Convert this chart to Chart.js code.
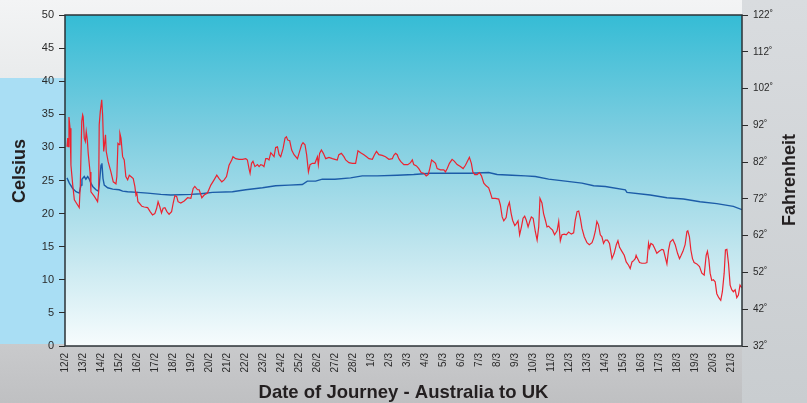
<!DOCTYPE html>
<html>
<head>
<meta charset="utf-8">
<script src="https://cdn.jsdelivr.net/npm/chart.js@4/dist/chart.umd.min.js"></script>
<style>
  html,body{margin:0;padding:0;}
  body{width:807px;height:403px;position:relative;overflow:hidden;background:#cdd1d4;}
  .bg{position:absolute;}
  #c{position:absolute;left:0;top:0;}
</style>
</head>
<body>
<div class="bg" style="left:0;top:0;width:807px;height:78px;background:linear-gradient(180deg,#f3f4f5,#e9ebec);"></div>
<div class="bg" style="left:742px;top:0;width:65px;height:403px;background:linear-gradient(180deg,#d9dcdf,#c9cdd0);"></div>
<div class="bg" style="left:0;top:78px;width:70px;height:266px;background:#a9def4;"></div>
<div class="bg" style="left:0;top:344px;width:742px;height:59px;background:linear-gradient(180deg,#c9cacc,#bfc0c2);"></div>
<canvas id="c" width="807" height="403"></canvas>
<script>
// X tick labels (one per day, index 0 = 12/2)
const dayLabels = ['12/2','13/2','14/2','15/2','16/2','17/2','18/2','19/2','20/2','21/2','22/2','23/2','24/2','25/2','26/2','27/2','28/2',
  '1/3','2/3','3/3','4/3','5/3','6/3','7/3','8/3','9/3','10/3','11/3','12/3','13/3','14/3','15/3','16/3','17/3','18/3','19/3','20/3','21/3'];

// Red series: air temperature (°C), day offsets from 12/2
const airDays = [0.11,0.15,0.18,0.22,0.28,0.33,0.43,0.52,0.70,0.79,0.85,0.93,0.98,1.01,1.07,1.13,1.18,1.24,1.29,1.39,1.44,1.63,1.81,1.87,1.90,1.96,2.04,2.09,2.15,2.20,2.25,2.29,2.40,2.55,2.68,2.83,2.88,2.94,3.01,3.05,3.11,3.20,3.29,3.38,3.48,3.57,3.66,3.79,3.88,3.94,3.99,4.05,4.12,4.27,4.40,4.59,4.73,4.86,4.99,5.09,5.17,5.27,5.36,5.45,5.55,5.66,5.78,5.92,6.01,6.10,6.20,6.28,6.43,6.62,6.81,6.99,7.12,7.21,7.36,7.45,7.60,7.73,7.91,8.10,8.28,8.43,8.56,8.71,8.84,8.97,9.11,9.26,9.33,9.48,9.67,9.86,10.04,10.13,10.22,10.28,10.36,10.44,10.55,10.69,10.78,10.87,10.97,11.05,11.15,11.24,11.33,11.43,11.52,11.61,11.70,11.80,11.89,11.98,12.11,12.22,12.30,12.37,12.48,12.59,12.72,12.91,13.03,13.14,13.22,13.33,13.42,13.52,13.61,13.74,13.88,14.02,14.07,14.14,14.24,14.35,14.48,14.66,14.85,14.99,15.12,15.21,15.35,15.49,15.59,15.77,15.96,16.14,16.27,16.42,16.60,16.75,16.88,17.07,17.19,17.30,17.43,17.62,17.80,17.99,18.18,18.26,18.36,18.45,18.54,18.64,18.82,19.04,19.19,19.29,19.37,19.52,19.65,19.78,19.93,20.06,20.17,20.26,20.36,20.45,20.58,20.67,20.85,21.04,21.13,21.23,21.35,21.50,21.63,21.78,21.96,22.11,22.24,22.33,22.46,22.57,22.65,22.76,22.89,23.02,23.13,23.26,23.39,23.53,23.63,23.72,23.90,24.09,24.18,24.28,24.37,24.50,24.59,24.68,24.78,24.86,24.98,25.07,25.16,25.25,25.35,25.44,25.53,25.62,25.72,25.81,25.90,26.00,26.12,26.22,26.31,26.38,26.49,26.58,26.68,26.77,26.86,26.96,27.08,27.19,27.33,27.42,27.51,27.60,27.73,27.84,27.97,28.12,28.25,28.34,28.44,28.53,28.62,28.71,28.84,28.99,29.12,29.27,29.36,29.45,29.54,29.63,29.73,29.82,29.91,30.01,30.13,30.24,30.38,30.50,30.62,30.71,30.80,30.93,31.06,31.17,31.30,31.39,31.49,31.58,31.67,31.72,31.80,31.91,32.04,32.22,32.32,32.41,32.46,32.54,32.65,32.74,32.87,33.00,33.15,33.24,33.33,33.43,33.52,33.61,33.76,33.89,34.02,34.13,34.22,34.32,34.44,34.54,34.59,34.68,34.76,34.85,34.94,35.09,35.24,35.37,35.50,35.61,35.68,35.76,35.83,35.92,36.01,36.11,36.20,36.31,36.42,36.51,36.61,36.68,36.76,36.85,36.94,37.03,37.12,37.22,37.31,37.40,37.49,37.59];
const airTemps = [30.1,31.4,30.1,34.6,32.9,27.3,24.3,22.1,21.3,20.9,24.3,33.9,34.9,34.6,31.4,30.9,32.4,31.1,29.1,26.3,23.3,22.6,21.8,23.3,33.4,35.4,37.2,34.9,29.4,30.6,31.9,29.4,27.8,26.3,24.8,24.5,25.6,30.6,30.4,32.1,31.4,28.6,28.1,25.6,25.1,25.8,25.6,25.3,24.1,22.8,23.1,21.8,21.6,21.1,21.0,20.9,20.3,19.8,20.0,20.8,21.8,21.0,20.1,20.8,20.9,20.3,19.9,20.3,21.6,22.7,22.6,21.8,21.6,21.9,22.4,22.3,23.8,24.1,23.6,23.6,22.4,22.8,23.1,24.3,25.1,25.8,25.3,24.8,25.1,25.6,27.3,28.1,28.6,28.3,28.2,28.2,28.3,28.1,26.8,26.1,27.6,27.9,27.1,27.4,27.1,27.4,27.3,27.1,28.3,28.3,28.1,29.2,28.9,28.6,30.0,30.1,28.9,28.6,29.8,31.4,31.6,31.1,31.0,29.6,28.9,28.3,29.4,30.4,30.7,30.4,28.9,26.3,27.4,27.6,27.6,28.6,27.4,29.1,29.6,29.1,28.3,28.5,28.3,28.2,28.1,28.9,29.1,28.6,28.1,27.7,27.6,27.6,29.5,29.2,28.9,28.6,28.3,28.2,28.9,29.4,28.9,28.8,28.6,28.2,28.3,28.8,29.1,28.9,28.3,27.9,27.4,27.4,27.7,28.1,27.4,27.2,26.8,26.2,26.1,25.7,25.9,26.8,28.1,27.9,27.6,26.8,26.6,26.6,26.3,26.8,27.6,28.2,27.9,27.4,27.1,26.8,27.3,27.8,28.5,27.6,26.3,25.9,25.9,26.2,25.7,24.6,24.2,23.9,23.1,22.3,22.3,22.2,21.3,19.5,18.9,19.4,21.0,21.7,20.0,19.0,18.2,18.5,18.9,16.8,18.0,19.3,19.6,19.0,18.0,18.8,19.5,19.3,17.3,16.0,18.0,22.3,21.6,20.0,19.0,18.0,18.1,17.8,17.5,16.8,17.4,18.8,15.9,16.8,16.9,16.8,17.2,16.9,17.1,19.0,20.3,20.4,19.3,17.8,16.5,15.6,15.3,15.6,16.3,17.3,18.8,18.3,16.8,16.5,15.5,16.0,16.0,15.5,13.2,14.0,15.3,15.9,14.9,14.3,13.7,12.7,12.2,11.7,12.7,12.9,13.2,13.7,13.2,12.6,12.5,12.5,12.6,15.5,14.8,15.5,15.3,14.8,14.0,14.3,14.6,14.5,13.5,12.4,14.5,15.7,16.1,15.3,14.0,13.2,13.7,14.3,15.3,17.3,17.4,16.5,14.5,13.2,12.6,12.4,12.0,11.0,10.7,13.7,14.3,13.0,11.0,9.9,10.0,9.7,7.9,7.3,6.9,8.2,11.0,14.5,14.6,12.5,9.2,8.5,8.2,8.5,7.3,7.7,9.2,8.8];

// Blue series: sea temperature (°C)
const seaDays = [0.11,0.24,0.43,0.61,0.79,0.89,0.94,1.07,1.16,1.26,1.35,1.44,1.54,1.72,1.85,1.90,2.00,2.05,2.11,2.18,2.37,2.65,3.01,3.20,3.48,4.03,4.59,5.32,5.88,6.99,7.54,8.19,9.30,10.04,10.97,11.70,12.44,13.18,13.46,13.92,14.29,14.99,15.86,16.51,17.34,18.45,19.37,20.30,22.52,23.53,24.00,24.83,25.57,26.12,26.86,27.79,28.71,29.36,30.01,31.12,31.21,32.50,33.43,34.35,35.27,36.20,37.12,37.60];
const seaTemps = [25.4,24.6,23.8,23.3,23.1,24.3,25.2,25.6,25.2,25.6,25.2,24.6,24.1,23.6,23.4,24.3,27.3,27.6,25.3,24.3,23.9,23.7,23.6,23.4,23.3,23.2,23.1,22.9,22.8,22.9,23.0,23.2,23.3,23.6,23.9,24.2,24.3,24.4,24.9,24.9,25.2,25.2,25.4,25.7,25.7,25.8,25.9,26.1,26.1,26.2,25.9,25.8,25.7,25.6,25.2,24.9,24.6,24.2,24.1,23.6,23.2,22.8,22.4,22.2,21.8,21.5,21.1,20.6];

const celsiusTicks = {min: 0, max: 50, step: 5};
const fahrenheitTicks = {min: 32, max: 122, step: 10};

const TXT = '#2a2a2a';
const FONT = '"Liberation Sans", Arial, sans-serif';

const bgPlugin = {
  id: 'plotBg',
  beforeDraw(chart) {
    const {ctx, chartArea: a} = chart;
    const g = ctx.createLinearGradient(0, a.top, 0, a.bottom);
    g.addColorStop(0, '#35bcd5');
    g.addColorStop(0.35, '#7ccde0');
    g.addColorStop(0.7, '#bfe5ee');
    g.addColorStop(1, '#f7fcfd');
    ctx.save();
    ctx.fillStyle = g;
    ctx.fillRect(a.left, a.top, a.right - a.left, a.bottom - a.top);
    ctx.restore();
  },
  afterDraw(chart) {
    const {ctx, chartArea: a} = chart;
    ctx.save();
    ctx.strokeStyle = '#2b3236';
    ctx.lineWidth = 1.5;
    ctx.strokeRect(a.left, a.top, a.right - a.left, a.bottom - a.top);
    ctx.fillStyle = '#231f20';
    ctx.font = 'bold 18px ' + FONT;
    ctx.textAlign = 'center';
    ctx.textBaseline = 'middle';
    // left title
    ctx.save();
    ctx.translate(20, 171);
    ctx.rotate(-Math.PI / 2);
    ctx.fillText('Celsius', 0, 0);
    ctx.restore();
    // right title
    ctx.save();
    ctx.translate(790, 180);
    ctx.rotate(-Math.PI / 2);
    ctx.fillText('Fahrenheit', 0, 0);
    ctx.restore();
    // bottom title
    ctx.font = 'bold 18.5px ' + FONT;
    ctx.fillText('Date of Journey - Australia to UK', (a.left + a.right) / 2, 393);
    ctx.restore();
  }
};

new Chart(document.getElementById('c'), {
  type: 'line',
  data: {
    datasets: [
      {
        label: 'Air',
        data: airDays.map((d, i) => ({x: d, y: airTemps[i]})),
        borderColor: '#ec2330',
        borderWidth: 1.2,
        pointRadius: 0,
        tension: 0,
        yAxisID: 'y'
      },
      {
        label: 'Sea',
        data: seaDays.map((d, i) => ({x: d, y: seaTemps[i]})),
        borderColor: '#1c5ca8',
        borderWidth: 1.4,
        pointRadius: 0,
        tension: 0,
        yAxisID: 'y'
      }
    ]
  },
  options: {
    responsive: false,
    animation: false,
    events: [],
    layout: {padding: {top: 15, left: 0, right: 0, bottom: 0}},
    plugins: {legend: {display: false}, tooltip: {enabled: false}},
    scales: {
      x: {
        type: 'linear',
        min: 0,
        max: 37.6,
        afterFit: s => { s.height = 57; },
        afterBuildTicks: s => { s.ticks = dayLabels.map((_, i) => ({value: i})); },
        grid: {display: false, drawTicks: false},
        border: {display: false},
        ticks: {
          autoSkip: false,
          maxRotation: 90,
          minRotation: 90,
          padding: 7,
          color: TXT,
          font: {family: FONT, size: 10},
          callback: v => dayLabels[Math.round(v)] ?? ''
        }
      },
      y: {
        position: 'left',
        min: celsiusTicks.min,
        max: celsiusTicks.max,
        afterFit: s => { s.width = 65; },
        grid: {drawOnChartArea: false, tickLength: 6, color: '#2b2b2b', lineWidth: 1},
        border: {display: false},
        ticks: {stepSize: celsiusTicks.step, padding: 5, color: TXT, font: {family: FONT, size: 11}}
      },
      y2: {
        position: 'right',
        min: fahrenheitTicks.min,
        max: fahrenheitTicks.max,
        afterFit: s => { s.width = 65; },
        grid: {drawOnChartArea: false, tickLength: 6, color: '#2b2b2b', lineWidth: 1},
        border: {display: false},
        ticks: {stepSize: fahrenheitTicks.step, padding: 5, color: TXT, font: {family: FONT, size: 10},
          callback: v => v + '˚'}
      }
    }
  },
  plugins: [bgPlugin]
});
</script>
</body>
</html>
